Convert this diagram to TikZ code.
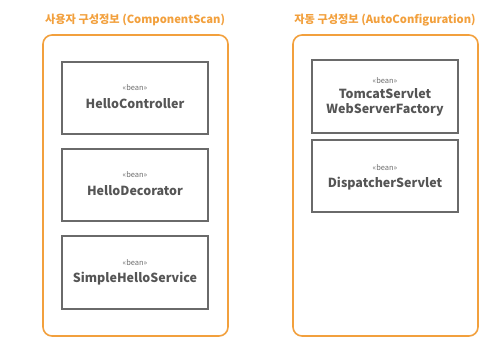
\documentclass[tikz,border=0pt]{standalone}
\usepackage{fontspec}
\setmainfont{Noto Sans CJK KR}
\newfontfamily\kr{Noto Sans CJK KR}
\definecolor{orng}{HTML}{F2A03D}
\definecolor{bgray}{HTML}{6A6A6A}
\definecolor{tgray}{HTML}{555555}
\begin{document}
\begin{tikzpicture}[x=1pt,y=-1pt,
  container/.style={draw=orng,line width=1.6pt,rounded corners=9pt},
  bean/.style={draw=bgray,line width=1.2pt},
  title/.style={text=orng,font=\kr\bfseries\fontsize{11.2}{13}\selectfont},
  stereo/.style={text=tgray!85,font=\kr\fontsize{7.5}{8}\selectfont},
  bname/.style={text=tgray,font=\kr\bfseries\fontsize{12.5}{15}\selectfont,align=center}]
\useasboundingbox (0,0) rectangle (504,353);
\node[title] (t1) at (135,20) {사용자 구성정보 (ComponentScan)};
\node[title] (t2) at (385,20) {자동 구성정보 (AutoConfiguration)};
\draw[container] (43,35) rectangle (228,336);
\draw[container] (293,35) rectangle (478,336);
% left beans
\draw[bean] (62,62) rectangle (208,134);
\node[stereo] (s1) at (135,88) {«bean»};
\node[bname] (n1) at (135,104) {HelloController};
\draw[bean] (62,149) rectangle (208,221);
\node[stereo] (s2) at (135,175) {«bean»};
\node[bname] (n2) at (135,191) {HelloDecorator};
\draw[bean] (62,236) rectangle (208,309);
\node[stereo] (s3) at (135,263) {«bean»};
\node[bname] (n3) at (135,279) {SimpleHelloService};
% right beans
\draw[bean] (312,60) rectangle (458,133);
\node[stereo] (s4) at (385,81) {«bean»};
\node[bname] (n4) at (385,102) {TomcatServlet\\WebServerFactory};
\draw[bean] (312,140) rectangle (458,212);
\node[stereo] (s5) at (385,168) {«bean»};
\node[bname] (n5) at (385,184) {DispatcherServlet};
\end{tikzpicture}
\end{document}
